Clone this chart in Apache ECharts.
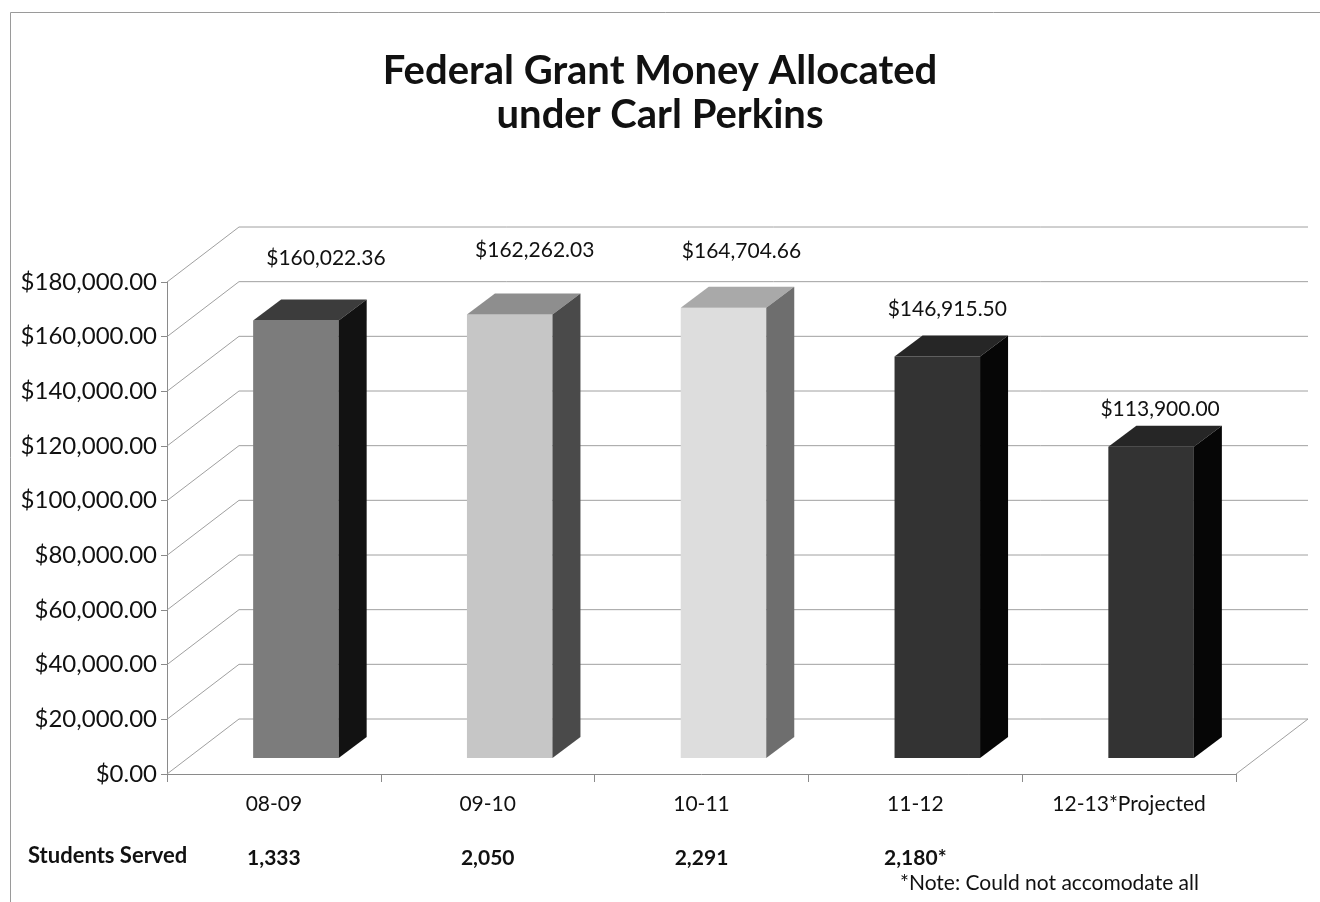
<!DOCTYPE html>
<html>
<head>
<meta charset="utf-8">
<script src="https://cdn.jsdelivr.net/npm/echarts@6/dist/echarts.min.js"></script>
<style>
  html, body { margin: 0; padding: 0; background: #ffffff; }
  #chart { width: 1320px; height: 902px; }
</style>
</head>
<body>
<div id="chart"></div>
<script>
// Grant allocations per school year
const years = ['08-09', '09-10', '10-11', '11-12', '12-13*Projected'];
const grantAmounts = [160022.36, 162262.03, 164704.66, 146915.50, 113900.00];
const studentsServed = ['1,333', '2,050', '2,291', '2,180*', ''];
const valueTicks = [0, 20000, 40000, 60000, 80000, 100000, 120000, 140000, 160000, 180000];

const FONT = 'Lato, "Open Sans", sans-serif';

// Pseudo-3D projection offsets (pixels)
const WALL_DX = 72, WALL_DY = -55;     // back wall relative to front plane
const PLANE_DX = 22, PLANE_DY = -16;   // bar front faces relative to front plane
const DEPTH_DX = 28, DEPTH_DY = -21;   // bar depth
const BAR_RATIO = 0.40;

// Face shades per bar: front, top, side
const barShades = [
  ['#7c7c7c', '#3c3c3c', '#121212'],
  ['#c6c6c6', '#8e8e8e', '#4a4a4a'],
  ['#dddddd', '#a9a9a9', '#6e6e6e'],
  ['#333333', '#262626', '#060606'],
  ['#333333', '#262626', '#060606']
];
// Value label placement relative to the top-front edge of each bar
const labelNudge = [[30, -62], [25, -64], [18, -57], [10, -47], [9, -37]];

const fmtMoney = v => '$' + Number(v).toLocaleString('en-US', { minimumFractionDigits: 2, maximumFractionDigits: 2 });

function renderWall(params, api) {
  const v = api.value(0);
  const cs = params.coordSys;
  const y = api.coord([0, v])[1];
  const lineStyle = { stroke: '#a0a0a0', lineWidth: 1 };
  const children = [
    { type: 'line', shape: { x1: cs.x, y1: y, x2: cs.x + WALL_DX, y2: y + WALL_DY }, style: lineStyle },
    { type: 'line', shape: { x1: cs.x + WALL_DX, y1: y + WALL_DY, x2: cs.x + cs.width + WALL_DX, y2: y + WALL_DY }, style: lineStyle }
  ];
  if (v === 0) {
    children.push({ type: 'line', shape: { x1: cs.x + cs.width, y1: y, x2: cs.x + cs.width + WALL_DX, y2: y + WALL_DY }, style: lineStyle });
  }
  return { type: 'group', children };
}

function renderBar(params, api) {
  const i = api.value(0), v = api.value(1);
  const top = api.coord([i, v]);
  const base = api.coord([i, 0]);
  const w = api.size([1, 0])[0] * BAR_RATIO;
  const cx = top[0] + PLANE_DX;
  const x1 = cx - w / 2, x2 = cx + w / 2;
  const yt = top[1] + PLANE_DY, yb = base[1] + PLANE_DY;
  const shade = barShades[i];
  const nudge = labelNudge[i];
  return {
    type: 'group',
    children: [
      { type: 'polygon', shape: { points: [[x1, yt], [x2, yt], [x2, yb], [x1, yb]] }, style: { fill: shade[0] } },
      { type: 'polygon', shape: { points: [[x1, yt], [x2, yt], [x2 + DEPTH_DX, yt + DEPTH_DY], [x1 + DEPTH_DX, yt + DEPTH_DY]] }, style: { fill: shade[1] } },
      { type: 'polygon', shape: { points: [[x2, yt], [x2 + DEPTH_DX, yt + DEPTH_DY], [x2 + DEPTH_DX, yb + DEPTH_DY], [x2, yb]] }, style: { fill: shade[2] } },
      { type: 'text', style: { text: fmtMoney(v), x: cx + nudge[0], y: yt + nudge[1], align: 'center', verticalAlign: 'middle', fontFamily: FONT, fontSize: 21, fill: '#111111' } }
    ]
  };
}

function renderStudents(params, api) {
  const i = api.value(0);
  const p = api.coord([i, 0]);
  return {
    type: 'text',
    style: { text: studentsServed[i], x: p[0], y: p[1] + 84, align: 'center', verticalAlign: 'middle', fontFamily: FONT, fontSize: 21, fontWeight: 'bold', fill: '#111111' }
  };
}

const chart = echarts.init(document.getElementById('chart'), null, { renderer: 'canvas' });

chart.setOption({
  backgroundColor: '#ffffff',
  animation: false,
  title: {
    text: 'Federal Grant Money Allocated\nunder Carl Perkins',
    left: 'center',
    top: 44,
    textStyle: { fontFamily: FONT, fontSize: 40, fontWeight: 'bold', color: '#111111', lineHeight: 44 }
  },
  grid: { left: 167, right: 84, top: 282, bottom: 128, containLabel: false },
  xAxis: {
    type: 'category',
    data: years,
    axisLine: { lineStyle: { color: '#8a8a8a', width: 1 } },
    axisTick: { show: true, length: 8, alignWithLabel: false, lineStyle: { color: '#8a8a8a' } },
    axisLabel: { margin: 20, fontFamily: FONT, fontSize: 21, color: '#111111' },
    splitLine: { show: false }
  },
  yAxis: {
    type: 'value',
    min: 0,
    max: 180000,
    interval: 20000,
    axisLine: { show: true, lineStyle: { color: '#8a8a8a', width: 1 } },
    axisTick: { show: true, length: 6, lineStyle: { color: '#8a8a8a' } },
    axisLabel: { margin: 10, fontFamily: FONT, fontSize: 24, color: '#111111', formatter: fmtMoney },
    splitLine: { show: false }
  },
  graphic: [
    { type: 'rect', left: 8, top: 10, shape: { width: 1400, height: 1000 }, style: { fill: 'none', stroke: '#9a9a9a', lineWidth: 1 }, z: -10 },
    { type: 'text', left: 28, top: 845, style: { text: 'Students Served', fontFamily: FONT, fontSize: 22, fontWeight: 'bold', fill: '#111111' } },
    { type: 'text', left: 900, top: 873, style: { text: '*Note: Could not accomodate all', fontFamily: FONT, fontSize: 21, fill: '#111111' } }
  ],
  series: [
    {
      type: 'custom',
      name: 'wall',
      renderItem: renderWall,
      data: valueTicks.map(v => [v]),
      encode: { y: 0 },
      z: 1,
      silent: true
    },
    {
      type: 'custom',
      name: 'Grant',
      renderItem: renderBar,
      data: grantAmounts.map((v, i) => [i, v]),
      encode: { x: 0, y: 1 },
      z: 3
    },
    {
      type: 'custom',
      name: 'Students',
      renderItem: renderStudents,
      data: studentsServed.map((s, i) => [i, 0]),
      encode: { x: 0, y: 1 },
      z: 3,
      silent: true
    }
  ]
});
</script>
</body>
</html>
